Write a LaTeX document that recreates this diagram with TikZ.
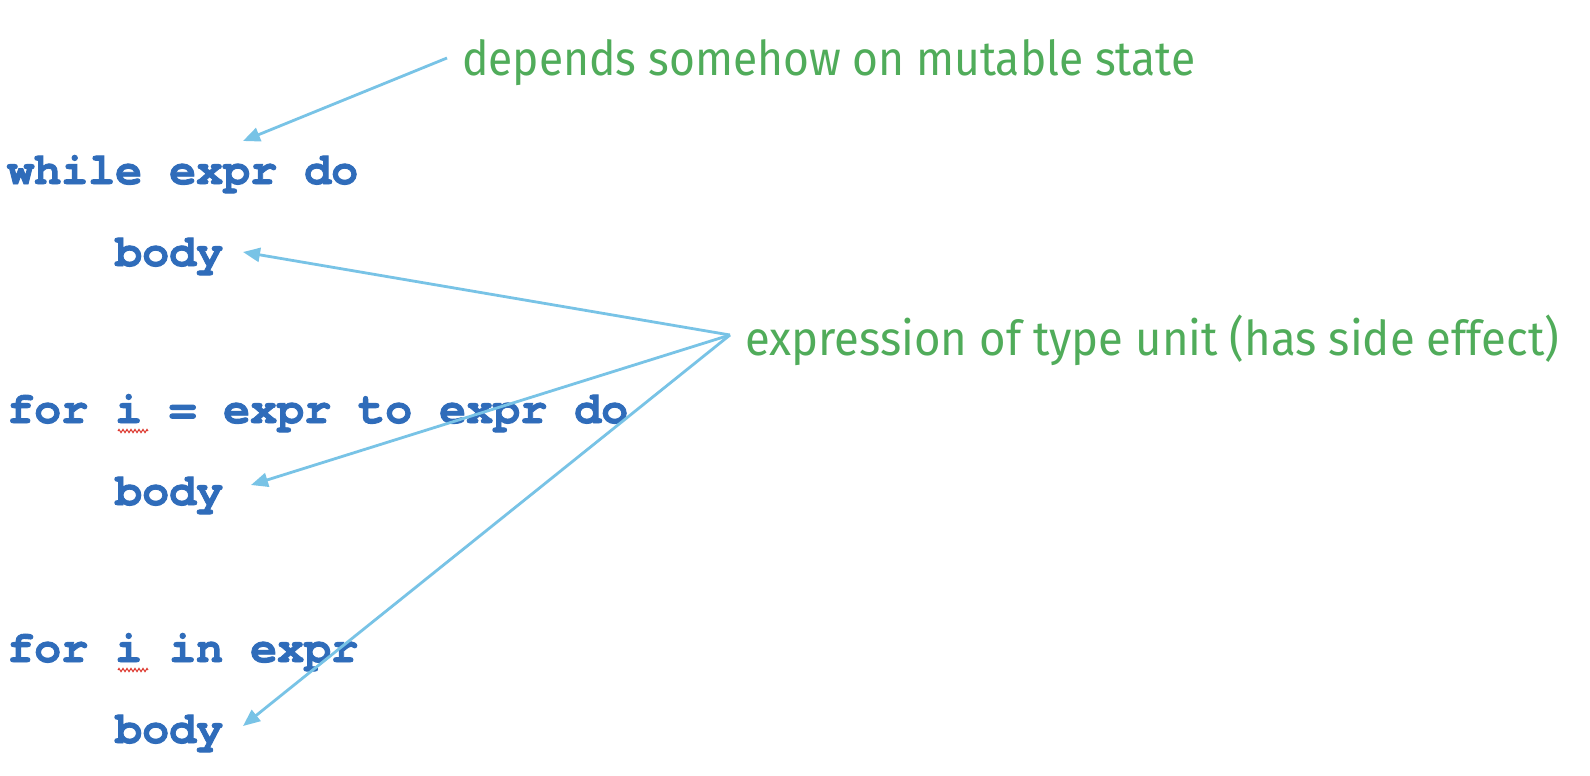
\documentclass[tikz,border=0pt]{standalone}
\usepackage{fontspec}
\usepackage{graphicx}
\usetikzlibrary{arrows.meta,decorations.pathmorphing}
\newfontfamily\codefont[FakeBold=2]{texgyrecursor-bold.otf}
\newfontfamily\notefont{Fira Sans}
\definecolor{codeblue}{RGB}{47,108,186}
\definecolor{notegreen}{RGB}{80,172,90}
\definecolor{arrowblue}{RGB}{120,195,230}
\definecolor{squiggle}{RGB}{220,50,40}
\tikzset{
  codeline/.style={anchor=base west, inner sep=0pt, text=codeblue,
    font=\codefont\fontsize{45}{50}\selectfont},
  note/.style={anchor=base west, inner sep=0pt, text=notegreen,
    font=\notefont\fontsize{48}{52}\selectfont},
  pointer/.style={draw=arrowblue, line width=2.8pt,
    -{Triangle[length=17pt,width=14pt]}},
  spell/.style={draw=squiggle, line width=1pt,
    decorate, decoration={zigzag, amplitude=1.6pt, segment length=4pt}}
}
\begin{document}
\begin{tikzpicture}[x=1pt,y=-1pt]
\useasboundingbox (0,0) rectangle (1590,776);
\fill[white] (0,0) rectangle (1590,776);
% code lines
\node[codeline] (w1) at (7,184) {while expr do};
\node[codeline] (w2) at (7,266) {\ \ \ \ body};
\node[codeline] (f1) at (7,423) {for i = expr to expr do};
\node[codeline] (f2) at (7,505) {\ \ \ \ body};
\node[codeline] (g1) at (7,662) {for i in expr};
\node[codeline] (g2) at (7,743) {\ \ \ \ body};
% notes
\node[note] (n1) at (462,75) {\resizebox{733pt}{\height}{depends somehow on mutable state}};
\node[note] (n2) at (745,355) {\resizebox{814pt}{\height}{expression of type unit (has side effect)}};
% arrow endpoints
\coordinate (s1) at (447,58);
\coordinate (s2) at (730,335);
\coordinate (t1) at (243,141);
\coordinate (t2) at (243,252);
\coordinate (t3) at (251,485);
\coordinate (t4) at (243,726);
\draw[pointer] (s1) -- (t1);
\draw[pointer] (s2) -- (t2);
\draw[pointer] (s2) -- (t3);
\draw[pointer] (s2) -- (t4);
% spell-check squiggles
\coordinate (q1a) at (118,431);
\coordinate (q1b) at (148,431);
\coordinate (q2a) at (118,670);
\coordinate (q2b) at (148,670);
\draw[spell] (q1a) -- (q1b);
\draw[spell] (q2a) -- (q2b);
\end{tikzpicture}
\end{document}
